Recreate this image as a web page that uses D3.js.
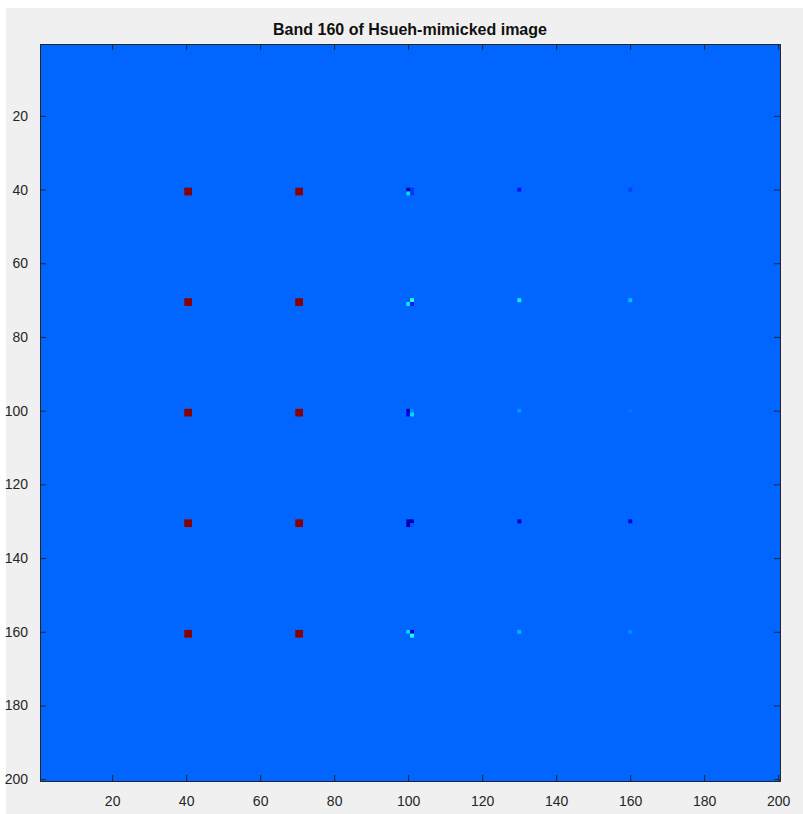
<!DOCTYPE html>
<html>
<head>
<meta charset="utf-8">
<script src="https://cdn.jsdelivr.net/npm/d3@7"></script>
<style>
  body { margin: 0; background: #fff; }
  text { font-family: "Liberation Sans", Arial, sans-serif; }
</style>
</head>
<body>
<svg id="chart" width="803" height="814"></svg>
<script>
// image size and background level (normalised band value, 0..1)
const nCols = 200;
const nRows = 200;
const background = 0.225;

// non-background pixels: [column, row, value]
const pixels = [
  // columns 40 and 70: 2x2 full targets
  [40, 40, 0.99], [41, 40, 0.99], [40, 41, 0.99], [41, 41, 0.99],
  [70, 40, 0.99], [71, 40, 0.99], [70, 41, 0.99], [71, 41, 0.99],
  [40, 70, 0.99], [41, 70, 0.99], [40, 71, 0.99], [41, 71, 0.99],
  [70, 70, 0.99], [71, 70, 0.99], [70, 71, 0.99], [71, 71, 0.99],
  [40, 100, 0.99], [41, 100, 0.99], [40, 101, 0.99], [41, 101, 0.99],
  [70, 100, 0.99], [71, 100, 0.99], [70, 101, 0.99], [71, 101, 0.99],
  [40, 130, 0.99], [41, 130, 0.99], [40, 131, 0.99], [41, 131, 0.99],
  [70, 130, 0.99], [71, 130, 0.99], [70, 131, 0.99], [71, 131, 0.99],
  [40, 160, 0.99], [41, 160, 0.99], [40, 161, 0.99], [41, 161, 0.99],
  [70, 160, 0.99], [71, 160, 0.99], [70, 161, 0.99], [71, 161, 0.99],
  // column 100: mixed subpixel targets
  [100, 40, 0.03], [101, 40, 0.18], [100, 41, 0.34], [101, 41, 0.18],
  [100, 70, 0.22], [101, 70, 0.42], [100, 71, 0.36], [101, 71, 0.15],
  [100, 100, 0.04], [101, 100, 0.26], [100, 101, 0.12], [101, 101, 0.34],
  [100, 130, 0.04], [101, 130, 0.05], [100, 131, 0.04], [101, 131, 0.21],
  [100, 160, 0.34], [101, 160, 0.08], [100, 161, 0.22], [101, 161, 0.40],
  // column 130: single pixels
  [130, 40, 0.14], [130, 70, 0.36], [130, 100, 0.27], [130, 130, 0.08], [130, 160, 0.30],
  // column 160: single pixels
  [160, 40, 0.19], [160, 70, 0.31], [160, 100, 0.24], [160, 130, 0.10], [160, 160, 0.26]
];

const xTicks = [20, 40, 60, 80, 100, 120, 140, 160, 180, 200];
const yTicks = [20, 40, 60, 80, 100, 120, 140, 160, 180, 200];
const title = "Band 160 of Hsueh-mimicked image";

const svg = d3.select("#chart");
const plot = { left: 40, right: 780, top: 44, bottom: 781 };

// figure background
svg.append("rect")
  .attr("x", 6).attr("y", 8)
  .attr("width", 797).attr("height", 806)
  .attr("fill", "#f0f0f0");

const x = d3.scaleLinear().domain([0.5, nCols + 0.5]).range([plot.left, plot.right]);
const y = d3.scaleLinear().domain([0.5, nRows + 0.5]).range([plot.top, plot.bottom]);

// MATLAB jet colormap
const jet = d3.scaleLinear()
  .domain([0, 0.125, 0.375, 0.625, 0.875, 1])
  .range(["#000080", "#0000ff", "#00ffff", "#ffff00", "#ff0000", "#800000"])
  .clamp(true);

// background image level
svg.append("rect")
  .attr("x", x(0.5)).attr("y", y(0.5))
  .attr("width", x(nCols + 0.5) - x(0.5))
  .attr("height", y(nRows + 0.5) - y(0.5))
  .attr("fill", jet(background));

svg.append("g")
  .selectAll("rect")
  .data(pixels)
  .join("rect")
  .attr("x", (d) => x(d[0] - 0.5))
  .attr("y", (d) => y(d[1] - 0.5))
  .attr("width", (d) => x(d[0] + 0.5) - x(d[0] - 0.5) + 0.3)
  .attr("height", (d) => y(d[1] + 0.5) - y(d[1] - 0.5) + 0.3)
  .attr("fill", (d) => jet(d[2]));

// axes, ticks inside the box like MATLAB
const tickLen = 6;
const axisColor = "#262626";
const fontSize = 14;

const bottomAxis = svg.append("g")
  .attr("transform", `translate(0,${plot.bottom})`)
  .call(d3.axisBottom(x).tickValues(xTicks).tickSize(-tickLen).tickPadding(tickLen + 9));
const topAxis = svg.append("g")
  .attr("transform", `translate(0,${plot.top})`)
  .call(d3.axisTop(x).tickValues(xTicks).tickSize(-tickLen).tickFormat(""));
const leftAxis = svg.append("g")
  .attr("transform", `translate(${plot.left},0)`)
  .call(d3.axisLeft(y).tickValues(yTicks).tickSize(-tickLen).tickPadding(tickLen + 6));
const rightAxis = svg.append("g")
  .attr("transform", `translate(${plot.right},0)`)
  .call(d3.axisRight(y).tickValues(yTicks).tickSize(-tickLen).tickFormat(""));

[bottomAxis, topAxis, leftAxis, rightAxis].forEach((g) => {
  g.select(".domain").attr("stroke", axisColor).attr("stroke-width", 1);
  g.selectAll(".tick line").attr("stroke", axisColor).attr("stroke-width", 1);
  g.selectAll(".tick text")
    .attr("fill", axisColor)
    .style("font-size", `${fontSize}px`)
    .style("font-family", "'Liberation Sans', Arial, sans-serif");
});

svg.append("text")
  .attr("x", (plot.left + plot.right) / 2)
  .attr("y", 35)
  .attr("text-anchor", "middle")
  .attr("font-size", 16)
  .attr("font-weight", "bold")
  .attr("fill", "#111")
  .text(title);
</script>
</body>
</html>
